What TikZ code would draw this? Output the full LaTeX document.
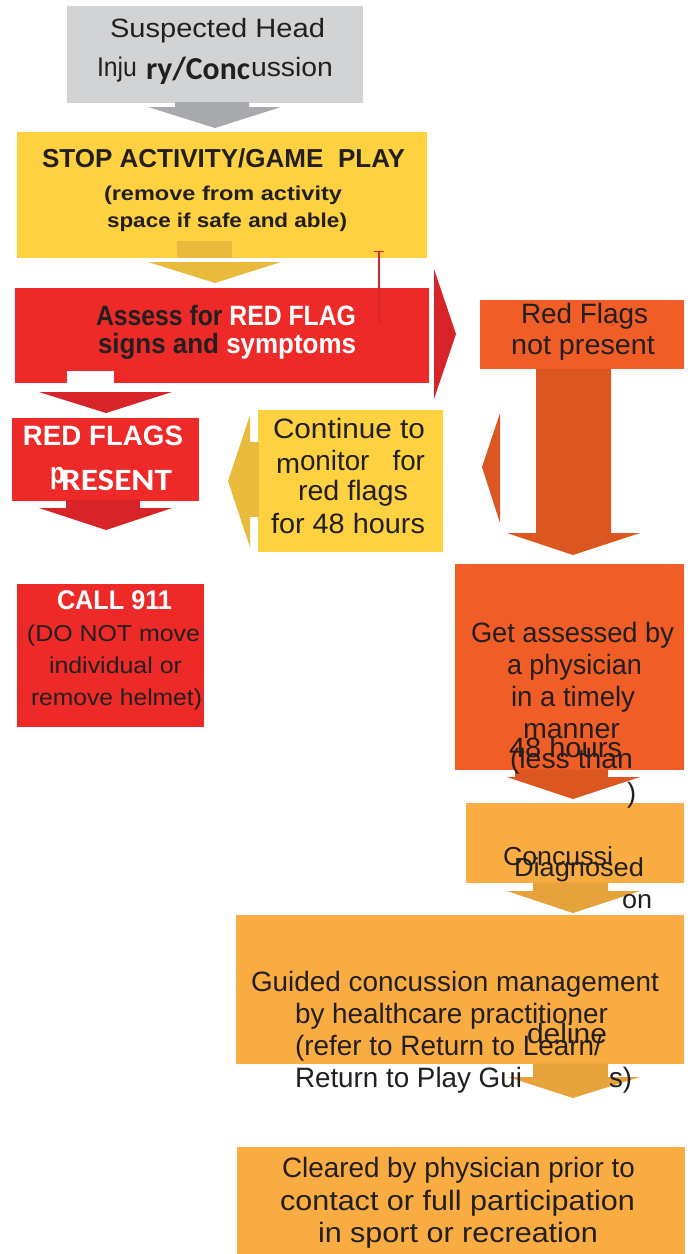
\documentclass[tikz,border=0pt]{standalone}
\usepackage{fontspec}
\setmainfont{Liberation Sans}
\newfontfamily\calfont{Carlito}
\usepackage{graphicx}
\definecolor{txt}{HTML}{231F20}
\definecolor{grayb}{HTML}{D1D3D4}
\definecolor{graya}{HTML}{A7A9AC}
\definecolor{yelb}{HTML}{FED141}
\definecolor{yela}{HTML}{E8BB3C}
\definecolor{redb}{HTML}{EE2A29}
\definecolor{reda}{HTML}{D62429}
\definecolor{redl}{HTML}{D0282E}
\definecolor{orb}{HTML}{F15D26}
\definecolor{ora}{HTML}{DB5621}
\definecolor{lob}{HTML}{F9AC41}
\definecolor{loa}{HTML}{E6A23B}
\newcommand\fs[1]{\fontsize{#1}{#1}\selectfont}
\newcommand\tline[6]{\node[tx] (#1) at (#2,#3) {\resizebox{#4pt}{\height}{#5#6}};}
\begin{document}
\begin{tikzpicture}[x=1pt,y=-1pt,
  box/.style={anchor=north west,inner sep=0pt,outer sep=0pt,draw=none},
  tx/.style={anchor=base west,inner sep=0pt,outer sep=0pt,text=txt}]
\useasboundingbox (0,0) rectangle (691,1254);
\fill[white] (0,0) rectangle (691,1254);
% boxes
\node[box,fill=grayb,minimum width=296pt,minimum height=97pt] (susp) at (67,6) {};
\node[box,fill=yelb,minimum width=410pt,minimum height=126pt] (stop) at (17,132) {};
\node[box,fill=redb,minimum width=414pt,minimum height=95pt] (assess) at (15,288) {};
\node[box,fill=orb,minimum width=204pt,minimum height=69pt] (notpres) at (480,300) {};
\node[box,fill=redb,minimum width=187pt,minimum height=83pt] (present) at (12,418) {};
\node[box,fill=yelb,minimum width=185pt,minimum height=142pt] (cont) at (258,410) {};
\node[box,fill=redb,minimum width=187pt,minimum height=143pt] (call) at (17,584) {};
\node[box,fill=orb,minimum width=229pt,minimum height=206pt] (getass) at (455,564) {};
\node[box,fill=lob,minimum width=218pt,minimum height=80pt] (diag) at (466,803) {};
\node[box,fill=lob,minimum width=448pt,minimum height=149pt] (guided) at (236,915) {};
\node[box,fill=lob,minimum width=448pt,minimum height=107pt] (cleared) at (237,1147) {};
% block arrows
\fill[graya] (175,102) -- (249,102) -- (249,107) -- (281,107) -- (215,128) -- (148,107) -- (175,107) -- cycle;
\fill[yela] (177,241) rectangle (232,258);
\fill[yela] (148,262) -- (281,262) -- (215,283) -- cycle;
\fill[reda] (434,269) -- (456,334) -- (434,399) -- cycle;
\fill[white] (67,371) rectangle (114,383);
\fill[reda] (39,392) -- (172,392) -- (106,413) -- cycle;
\fill[reda] (66,500) -- (140,500) -- (140,508) -- (172,508) -- (106,530) -- (39,508) -- (66,508) -- cycle;
\fill[yela] (250,442) rectangle (258.5,517);
\fill[yela] (250,415) -- (228,481) -- (250,547) -- cycle;
\fill[ora] (536,369) -- (611,369) -- (611,533) -- (640,533) -- (573,555) -- (507,533) -- (536,533) -- cycle;
\fill[ora] (500,413) -- (482,467) -- (500,523) -- cycle;
\fill[ora] (515,769.5) -- (608,769.5) -- (608,777) -- (640,777) -- (573,799) -- (507,777) -- (515,777) -- cycle;
\fill[loa] (533,882.5) -- (608,882.5) -- (608,891) -- (640,891) -- (573,913) -- (507,891) -- (533,891) -- cycle;
\fill[loa] (533,1063.5) -- (608,1063.5) -- (608,1077) -- (640,1077) -- (573,1098) -- (508,1077) -- (533,1077) -- cycle;
% red line
\draw[redl,line width=2.5pt] (379,252) -- (379,323);
\draw[redl,line width=1.5pt] (374,251.5) -- (384,251.5);
\draw[redl,line width=1.5pt] (376.5,322.5) -- (381.5,322.5);
% texts
\tline{t1}{110}{37}{215}{\fs{26.5}}{Suspected Head}
\tline{t2}{97}{76}{40}{\fs{27}}{Inju}
\tline{t3}{146}{79}{104}{\calfont\bfseries\fs{32}}{ry/Conc}
\tline{t4}{251}{76}{82}{\fs{26.5}}{ussion}
\tline{s1}{42}{167}{363}{\bfseries\fs{26}}{STOP ACTIVITY/GAME\ \ PLAY}
\tline{s2}{104}{200}{238}{\bfseries\fs{20}}{(remove from activity}
\tline{s3}{107}{227}{240}{\bfseries\fs{20}}{space if safe and able)}
\tline{a1}{96}{325}{260}{\bfseries\fs{28}}{Assess for {\color{white}RED FLAG}}
\tline{a2}{98}{353}{258}{\bfseries\fs{28}}{signs and {\color{white}symptoms}}
\tline{n1}{521}{323}{127}{\fs{28}}{Red Flags}
\tline{n2}{511}{354}{144}{\fs{28}}{not present}
\tline{p1}{23}{445}{160}{\color{white}\bfseries\fs{28}}{RED FLAGS}
\tline{p2}{50}{483}{15}{\color{white}\bfseries\fs{30}}{p}
\tline{p3}{61}{490}{111}{\color{white}\calfont\bfseries\fs{31}}{RESENT}
\tline{c1}{273}{438}{152}{\fs{28}}{Continue to}
\tline{c2}{276}{473}{24}{\fs{28}}{m}
\tline{c3}{300}{470}{125}{\fs{28}}{onitor\ \ \ for}
\tline{c4}{298}{500}{110}{\fs{28}}{red flags}
\tline{c5}{271}{533}{154}{\fs{28}}{for 48 hours}
\tline{k1}{57}{609}{115}{\color{white}\bfseries\fs{27}}{CALL 911}
\tline{k2}{27}{641}{173}{\fs{23}}{(DO NOT move}
\tline{k3}{49}{673}{133}{\fs{23}}{individual or}
\tline{k4}{31}{705}{171}{\fs{23}}{remove helmet)}
\tline{g1}{471}{642}{203}{\fs{28}}{Get assessed by}
\tline{g2}{507}{674}{135}{\fs{28}}{a physician}
\tline{g3}{511}{706}{124}{\fs{28}}{in a timely}
\tline{g4}{523}{738}{97}{\fs{28}}{manner}
\tline{g5}{509}{757}{113}{\fs{28}}{48 hours}
\tline{g6}{510}{768}{123}{\fs{28}}{(less than}
\tline{g7}{627}{802}{9}{\fs{28}}{)}
\tline{d1}{503}{865}{110}{\fs{26}}{Concussi}
\tline{d2}{514}{876}{130}{\fs{26}}{Diagnosed}
\tline{d3}{622}{908}{30}{\fs{26}}{on}
\tline{m1}{251}{991}{408}{\fs{28}}{Guided concussion management}
\tline{m2}{295}{1023}{313}{\fs{28}}{by healthcare practitioner}
\tline{m3}{295}{1055}{307}{\fs{28}}{(refer to Return to Learn/}
\tline{m4}{527}{1043}{80}{\fs{28}}{deline}
\tline{m5}{295}{1087}{227}{\fs{28}}{Return to Play Gui}
\tline{m6}{609}{1087}{23}{\fs{28}}{s)}
\tline{r1}{282}{1177}{353}{\fs{28}}{Cleared by physician prior to}
\tline{r2}{280}{1210}{355}{\fs{28}}{contact or full participation}
\tline{r3}{318}{1242}{280}{\fs{28}}{in sport or recreation}
\end{tikzpicture}
\end{document}
